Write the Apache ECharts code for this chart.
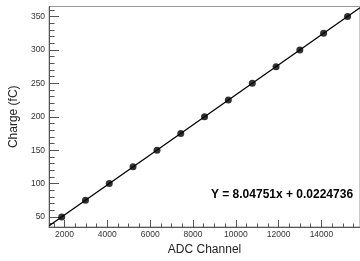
<!DOCTYPE html>
<html>
<head>
<meta charset="utf-8">
<script src="https://cdn.jsdelivr.net/npm/echarts@6/dist/echarts.min.js"></script>
<style>html,body{margin:0;padding:0;background:#fff}#c{width:360px;height:261px}</style>
</head>
<body>
<div id="c"></div>
<script>
// Data
var adcChannel = [1870, 2980, 4090, 5200, 6320, 7430, 8540, 9650, 10770, 11880, 12990, 14100, 15220];
var chargeFC   = [50, 75, 100, 125, 150, 175, 200, 225, 250, 275, 300, 325, 350];
// Fit line endpoints (across the full axis range)
var fitX = [1280, 15800];
var fitY = [36.8, 363.1];
var xTickLabels = [2000, 4000, 6000, 8000, 10000, 12000, 14000];
var xMinorTicks = [1500, 2500, 3000, 3500, 4500, 5000, 5500, 6500, 7000, 7500, 8500, 9000, 9500, 10500, 11000, 11500, 12500, 13000, 13500, 14500, 15000, 15500];
var yTickLabels = [50, 100, 150, 200, 250, 300, 350];
var yMinorTicks = [40, 60, 70, 80, 90, 110, 120, 130, 140, 160, 170, 180, 190, 210, 220, 230, 240, 260, 270, 280, 290, 310, 320, 330, 340, 360];
var fitText = 'Y = 8.04751x + 0.0224736';

var chart = echarts.init(document.getElementById('c'), null, {renderer: 'canvas'});
var fontFam = 'Liberation Sans, Arial, sans-serif';
var axisCol = '#555';
function plain(v) { return String(v); }
chart.setOption({
  animation: false,
  backgroundColor: '#fff',
  grid: {left: 39, top: 6.5, right: -2.5, bottom: 33, show: true, borderColor: '#999', borderWidth: 1, backgroundColor: 'transparent'},
  xAxis: [{
    type: 'value', min: 1280, max: 15800, position: 'bottom',
    name: 'ADC Channel', nameLocation: 'middle', nameGap: 17,
    nameTextStyle: {fontFamily: fontFam, fontSize: 12, color: '#222'},
    axisLine: {show: true, lineStyle: {color: axisCol, width: 1}},
    axisTick: {show: true, inside: true, length: 7, customValues: xTickLabels, lineStyle: {color: axisCol}},
    axisLabel: {customValues: xTickLabels, formatter: plain, fontFamily: fontFam, fontSize: 8.5, color: '#333', margin: 3},
    splitLine: {show: false}
  }, {
    type: 'value', min: 1280, max: 15800, position: 'bottom',
    axisLine: {show: false},
    axisTick: {show: true, inside: true, length: 3.5, customValues: xMinorTicks, lineStyle: {color: axisCol}},
    axisLabel: {show: false},
    splitLine: {show: false}
  }],
  yAxis: [{
    type: 'value', min: 35, max: 365, position: 'left',
    name: 'Charge (fC)', nameLocation: 'middle', nameGap: 19, nameRotate: 90,
    nameTextStyle: {fontFamily: fontFam, fontSize: 12, color: '#222'},
    axisLine: {show: true, lineStyle: {color: axisCol, width: 1}},
    axisTick: {show: true, inside: true, length: 10, customValues: yTickLabels, lineStyle: {color: axisCol}},
    axisLabel: {customValues: yTickLabels, formatter: plain, fontFamily: fontFam, fontSize: 8.5, color: '#333', margin: 4},
    splitLine: {show: false}
  }, {
    type: 'value', min: 35, max: 365, position: 'left',
    axisLine: {show: false},
    axisTick: {show: true, inside: true, length: 5.5, customValues: yMinorTicks, lineStyle: {color: axisCol}},
    axisLabel: {show: false},
    splitLine: {show: false}
  }],
  series: [{
    type: 'line', xAxisIndex: 0, yAxisIndex: 0,
    data: fitX.map(function (x, i) { return [x, fitY[i]]; }),
    showSymbol: false, symbol: 'none', clip: true,
    lineStyle: {color: '#000', width: 1.3}, z: 2
  }, {
    type: 'scatter', xAxisIndex: 0, yAxisIndex: 0,
    data: adcChannel.map(function (x, i) { return [x, chargeFC[i]]; }),
    symbol: 'circle', symbolSize: 7,
    itemStyle: {color: '#000'}, z: 3
  }],
  graphic: [{
    type: 'text', x: 282, y: 195,
    style: {text: fitText, font: 'bold 12px ' + fontFam, fill: '#000', align: 'center', verticalAlign: 'middle'}
  }]
});
</script>
</body>
</html>
